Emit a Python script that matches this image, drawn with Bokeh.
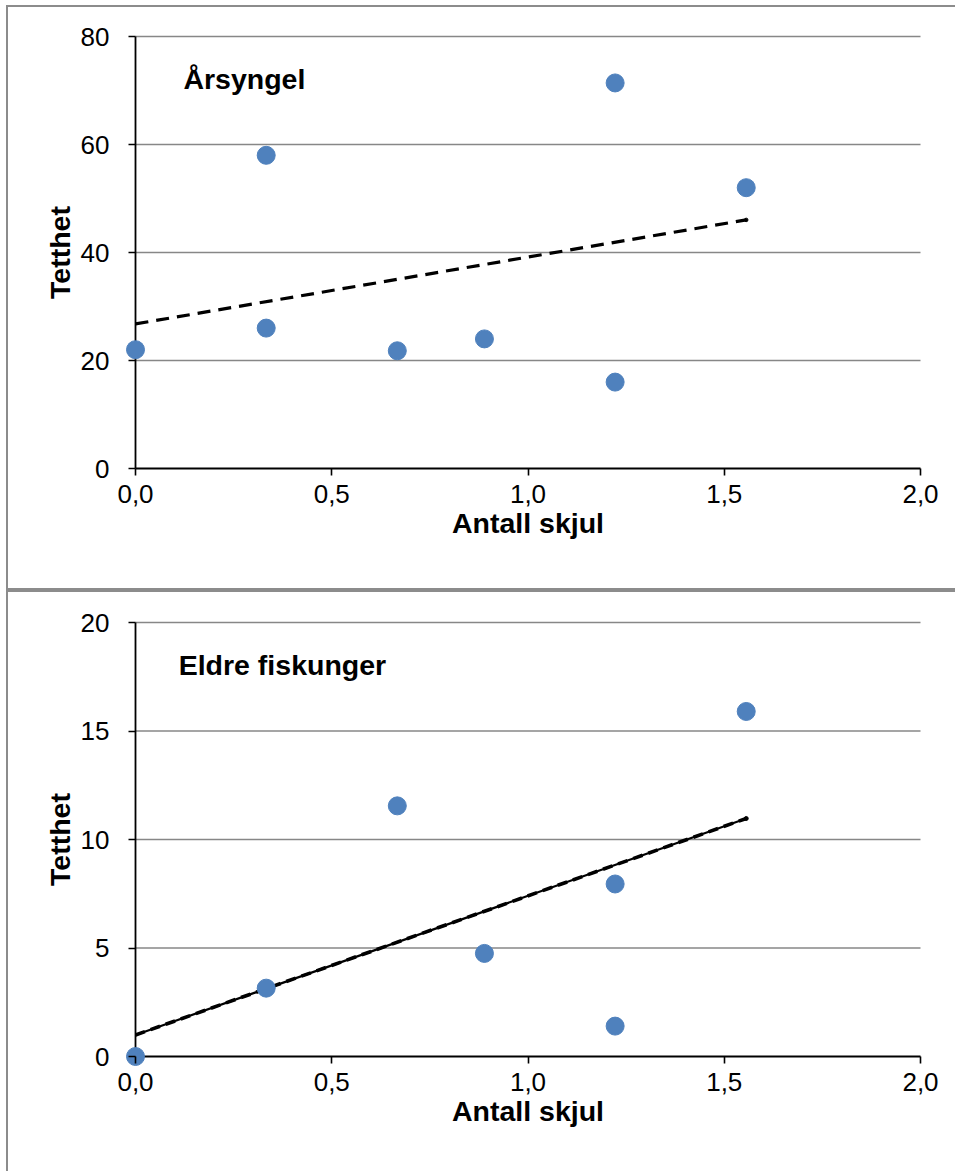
import numpy as np
from bokeh.plotting import figure
from bokeh.layouts import column
from bokeh.models import FixedTicker, Label
from bokeh.embed import file_html
from bokeh.resources import INLINE

# ---- data ----
x_top = [0.0, 0.333, 0.333, 0.667, 0.889, 1.222, 1.222, 1.556]
y_top = [22.0, 58.0, 26.0, 21.8, 24.0, 71.4, 16.0, 52.0]

x_bot = [0.0, 0.333, 0.667, 0.889, 1.222, 1.222, 1.556]
y_bot = [0.0, 3.15, 11.55, 4.75, 7.95, 1.4, 15.9]

x_ticks = [0.0, 0.5, 1.0, 1.5, 2.0]
x_tick_labels = ["0,0", "0,5", "1,0", "1,5", "2,0"]
y_ticks_top = [0, 20, 40, 60, 80]
y_ticks_bot = [0, 5, 10, 15, 20]

FONT = "Liberation Sans"
BLUE = "#4F81BD"
GRID = "#878787"
BORDER = "#8c8c8c"

PAD = 12      # frame pixels kept outside the axes so edge markers are not clipped
XPX = 785.0   # pixels for x 0..2
TICK = 7


def style_axis(ax):
    ax.axis_line_color = None
    ax.major_tick_line_color = "black"
    ax.major_tick_line_width = 1.6
    ax.major_tick_in = PAD
    ax.major_tick_out = TICK - PAD
    ax.minor_tick_line_color = None
    ax.major_label_text_font = FONT
    ax.major_label_text_font_size = "26px"
    ax.major_label_text_color = "black"
    ax.axis_label_text_font = FONT
    ax.axis_label_text_font_size = "28.5px"
    ax.axis_label_text_font_style = "bold"
    ax.axis_label_text_color = "black"


def make_panel(xs, ys, yticks, title, title_x, title_y, height, mb_top, mb_bottom,
               bottom_border, dashed_only):
    ypx = 432.0 if mb_top == 29 else 434.0
    xpu = XPX / (x_ticks[-1] - x_ticks[0])
    ypu = ypx / (yticks[-1] - yticks[0])
    xr = (x_ticks[0] - PAD / xpu, x_ticks[-1] + PAD / xpu)
    yr = (yticks[0] - PAD / ypu, yticks[-1] + PAD / ypu)
    p = figure(width=949, height=height, output_backend="svg", toolbar_location=None,
               x_range=xr, y_range=yr,
               min_border_left=127 - PAD, min_border_right=37 - PAD,
               min_border_top=mb_top - PAD, min_border_bottom=mb_bottom - PAD)
    p.outline_line_color = None
    p.xgrid.visible = False
    p.ygrid.visible = False

    p.xaxis.ticker = FixedTicker(ticks=x_ticks)
    p.xaxis.major_label_overrides = {t: l for t, l in zip(x_ticks, x_tick_labels)}
    p.yaxis.ticker = FixedTicker(ticks=yticks)
    style_axis(p.xaxis[0])
    style_axis(p.yaxis[0])
    p.xaxis.axis_label = "Antall skjul"
    p.yaxis.axis_label = "Tetthet"
    p.xaxis.major_label_standoff = 4
    p.yaxis.major_label_standoff = 14
    p.xaxis.axis_label_standoff = 1
    p.yaxis.axis_label_standoff = 2

    # horizontal gridlines and axis lines, spanning the axis extent only
    gy = yticks[1:]
    p.segment(x0=[x_ticks[0]] * len(gy), y0=gy, x1=[x_ticks[-1]] * len(gy), y1=gy,
              line_color=GRID, line_width=1.6)
    p.segment(x0=[x_ticks[0], x_ticks[0]], y0=[yticks[0], yticks[0]],
              x1=[x_ticks[-1], x_ticks[0]], y1=[yticks[0], yticks[-1]],
              line_color="black", line_width=1.8)

    # trend line (least squares fit of the points)
    k, m = np.polyfit(xs, ys, 1)
    tx = [0.0, max(xs)]
    ty = [m + k * tx[0], m + k * tx[1]]
    if not dashed_only:
        p.line(tx, ty, line_color="black", line_width=2.2)
        p.line(tx, ty, line_color="black", line_width=3.6, line_dash="10 6")
        p.scatter([tx[1]], [ty[1]], size=4, color="black")
    else:
        p.line(tx, ty, line_color="black", line_width=3.2, line_dash="13 8")
        p.scatter([tx[1]], [ty[1]], size=3.5, color="black")

    p.scatter(xs, ys, size=18, fill_color=BLUE, line_color=BLUE)

    p.add_layout(Label(x=title_x, y=title_y, text=title, text_font=FONT,
                       text_font_size="28.5px", text_font_style="bold",
                       text_baseline="middle", text_color="black"))

    st = {"border-top": f"2px solid {BORDER}", "border-left": f"2px solid {BORDER}"}
    if bottom_border:
        st["border-bottom"] = f"2px solid {BORDER}"
    p.styles = st
    return p


p1 = make_panel(x_top, y_top, y_ticks_top, "Årsyngel", 0.122, 72.2,
                585, 29, 124, True, True)
p1.margin = (5, 0, 0, 6)
p2 = make_panel(x_bot, y_bot, y_ticks_bot, "Eldre fiskunger", 0.11, 18.06,
                581, 30, 117, False, False)
p2.margin = (0, 0, 0, 6)

layout = column(p1, p2, spacing=0)
open("out.html", "w").write(file_html(layout, INLINE))
